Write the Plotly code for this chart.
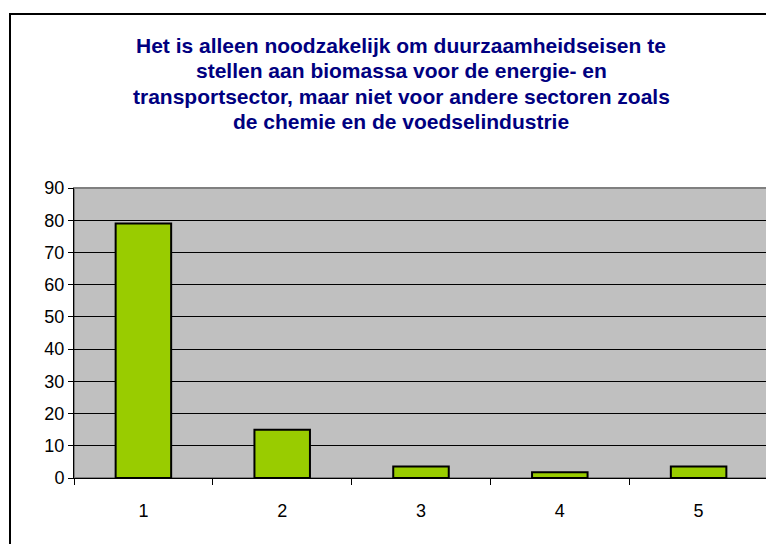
from plotly import graph_objects as go

# Data
categories = ['1', '2', '3', '4', '5']
values = [79, 15, 3.6, 1.8, 3.6]
y_ticks = [0, 10, 20, 30, 40, 50, 60, 70, 80, 90]

title_lines = [
  'Het is alleen noodzakelijk om duurzaamheidseisen te',
  'stellen aan biomassa voor de energie- en',
  'transportsector, maar niet voor andere sectoren zoals',
  'de chemie en de voedselindustrie',
]

# Page body has an 8px margin, so the figure is sized to fit the window
W, H = 766, 536
L, R, T, B = 66, 6, 180, 66
pw, ph = W - L - R, H - T - B

fig = go.Figure()

fig.add_trace(
  go.Bar(
    x=categories,
    y=values,
    width=0.4,
    marker=dict(color='#99CC00', line=dict(color='#000000', width=2)),
    showlegend=False
  )
)

# Title, one annotation per line for Excel-like spacing
for i, line in enumerate(title_lines):
  fig.add_annotation(
    text='<b>' + line + '</b>',
    xref='paper', yref='paper',
    x=(393 - L) / pw,
    y=1 + (T - 37 - i * 25.5) / ph,
    xanchor='center', yanchor='middle',
    showarrow=False,
    font=dict(family='Arial, Liberation Sans', size=21, color='#000080')
  )

fig.update_layout(
  width=W, height=H,
  margin=dict(l=L, r=R, t=T, b=B),
  paper_bgcolor='#FFFFFF',
  plot_bgcolor='#C0C0C0',
  font=dict(family='Arial, Liberation Sans', size=18, color='#000000'),
  xaxis=dict(
    type='category',
    tickson='boundaries',
    ticks='outside', ticklen=6, tickcolor='#000000',
    showline=True, linecolor='#000000', linewidth=1,
    showgrid=False,
    ticklabelstandoff=16,
    tickfont=dict(size=18)
  ),
  yaxis=dict(
    range=[0, 90],
    tickvals=y_ticks,
    ticks='outside', ticklen=5, tickcolor='#000000',
    showline=True, linecolor='#000000', linewidth=1,
    gridcolor='#000000', gridwidth=1,
    zeroline=False,
    tickfont=dict(size=18)
  ),
  shapes=[
    # Plot area frame
    dict(type='rect', xref='paper', yref='paper', x0=0, x1=1, y0=0, y1=1,
         line=dict(color='#808080', width=2), layer='below'),
    # Outer chart border
    dict(type='rect', xref='paper', yref='paper',
         x0=(2 - L) / pw, x1=(800 - L) / pw,
         y0=-(560 - T - ph) / ph, y1=1 + (T - 6) / ph,
         line=dict(color='#000000', width=2))
  ]
)

fig.write_html('out.html')
